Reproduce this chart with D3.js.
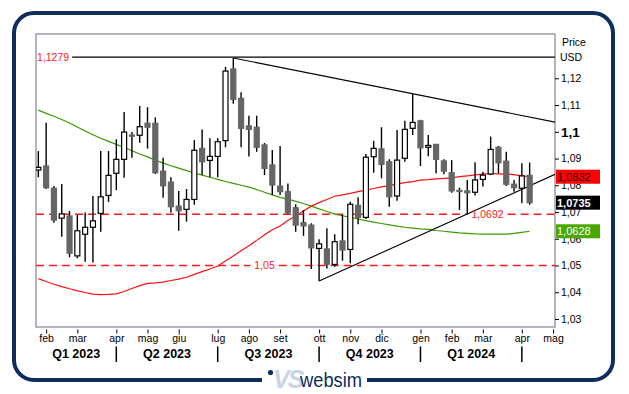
<!DOCTYPE html>
<html>
<head>
<meta charset="utf-8">
<script src="https://cdn.jsdelivr.net/npm/d3@7"></script>
<style>
  body { margin: 0; background: #fff; }
  text { font-family: 'Liberation Sans', Arial, sans-serif; }
</style>
</head>
<body>
<script>
// EUR/USD weekly candles, from week of 23 Jan 2023
const firstWeek = new Date(2023, 0, 23);
const opens = [1.0857, 1.0872, 1.0789, 1.0677, 1.0685, 1.0536, 1.0617, 1.0643, 1.0695, 1.0762,
  1.0845, 1.0897, 1.0988, 1.0987, 1.1032, 1.1032, 1.0853, 1.0812, 1.0722, 1.0710,
  1.0747, 1.0938, 1.0893, 1.0908, 1.0967, 1.1235, 1.1125, 1.1022, 1.1017, 1.0951,
  1.0876, 1.0797, 1.0776, 1.0716, 1.0660, 1.0651, 1.0564, 1.0562, 1.0504, 1.0592,
  1.0560, 1.0725, 1.0680, 1.0907, 1.0936, 1.0888, 1.0760, 1.0901, 1.1013, 1.1041,
  1.0942, 1.0953, 1.0891, 1.0847, 1.0781, 1.0779, 1.0774, 1.0822, 1.0842, 1.0942,
  1.0890, 1.0804, 1.0789, 1.0837];
const highs = [1.0928, 1.1034, 1.0797, 1.0805, 1.0704, 1.0689, 1.0698, 1.0760, 1.0928, 1.0928,
  1.0972, 1.1074, 1.0999, 1.1096, 1.1092, 1.1054, 1.0903, 1.0830, 1.0779, 1.0786,
  1.0969, 1.1009, 1.0976, 1.0976, 1.1243, 1.1276, 1.1148, 1.1060, 1.1060, 1.0958,
  1.0932, 1.0947, 1.0807, 1.0729, 1.0707, 1.0658, 1.0598, 1.0639, 1.0617, 1.0691,
  1.0738, 1.0755, 1.0917, 1.0966, 1.1017, 1.0897, 1.1007, 1.1041, 1.1141, 1.1045,
  1.0988, 1.0954, 1.0897, 1.0894, 1.0791, 1.0820, 1.0886, 1.0851, 1.0982, 1.0947,
  1.0925, 1.0820, 1.0882, 1.0885];
const lows = [1.0830, 1.0786, 1.0660, 1.0608, 1.0531, 1.0527, 1.0514, 1.0511, 1.0626, 1.0738,
  1.0782, 1.0828, 1.0903, 1.0959, 1.0937, 1.0842, 1.0753, 1.0697, 1.0630, 1.0664,
  1.0727, 1.0838, 1.0830, 1.0830, 1.0942, 1.1105, 1.0942, 1.0908, 1.0925, 1.0838,
  1.0764, 1.0764, 1.0691, 1.0626, 1.0611, 1.0487, 1.0442, 1.0489, 1.0495, 1.0518,
  1.0508, 1.0654, 1.0674, 1.0847, 1.0826, 1.0720, 1.0742, 1.0888, 1.0988, 1.0872,
  1.0909, 1.0845, 1.0841, 1.0772, 1.0707, 1.0692, 1.0762, 1.0795, 1.0838, 1.0845,
  1.0797, 1.0776, 1.0733, 1.0727];
const closes = [1.0867, 1.0791, 1.0670, 1.0693, 1.0546, 1.0630, 1.0643, 1.0667, 1.0757, 1.0837,
  1.0897, 1.0999, 1.0987, 1.1019, 1.1017, 1.0847, 1.0798, 1.0720, 1.0705, 1.0747,
  1.0931, 1.0888, 1.0908, 1.0963, 1.1227, 1.1121, 1.1013, 1.1009, 1.0942, 1.0863,
  1.0801, 1.0776, 1.0697, 1.0651, 1.0648, 1.0566, 1.0581, 1.0505, 1.0589, 1.0558,
  1.0729, 1.0680, 1.0905, 1.0938, 1.0878, 1.0757, 1.0894, 1.1009, 1.1035, 1.0940,
  1.0949, 1.0897, 1.0853, 1.0779, 1.0780, 1.0772, 1.0820, 1.0838, 1.0934, 1.0884,
  1.0804, 1.0791, 1.0835, 1.0735];

// moving averages
const maRed = [1.0451, 1.0440, 1.0430, 1.0421, 1.0413, 1.0405, 1.0399, 1.0393, 1.0391, 1.0392,
  1.0394, 1.0403, 1.0414, 1.0425, 1.0433, 1.0435, 1.0438, 1.0444, 1.0449, 1.0456,
  1.0467, 1.0477, 1.0487, 1.0498, 1.0517, 1.0536, 1.0555, 1.0574, 1.0594, 1.0615,
  1.0634, 1.0648, 1.0668, 1.0686, 1.0704, 1.0722, 1.0735, 1.0747, 1.0759, 1.0764,
  1.0770, 1.0776, 1.0782, 1.0788, 1.0794, 1.0799, 1.0805, 1.0810, 1.0814, 1.0819,
  1.0821, 1.0824, 1.0826, 1.0828, 1.0832, 1.0835, 1.0839, 1.0842, 1.0844, 1.0843,
  1.0842, 1.0840, 1.0835, 1.0832];
const maGreen = [1.1081, 1.1069, 1.1058, 1.1046, 1.1033, 1.1018, 1.1003, 1.0989, 1.0976, 1.0964,
  1.0953, 1.0941, 1.0929, 1.0917, 1.0906, 1.0894, 1.0883, 1.0873, 1.0864, 1.0855,
  1.0846, 1.0838, 1.0830, 1.0822, 1.0814, 1.0807, 1.0800, 1.0793, 1.0784, 1.0774,
  1.0764, 1.0755, 1.0748, 1.0740, 1.0732, 1.0722, 1.0712, 1.0702, 1.0692, 1.0686,
  1.0680, 1.0674, 1.0668, 1.0662, 1.0657, 1.0652, 1.0647, 1.0643, 1.0640, 1.0637,
  1.0635, 1.0631, 1.0628, 1.0625, 1.0622, 1.0620, 1.0618, 1.0617, 1.0617, 1.0617,
  1.0617, 1.0620, 1.0624, 1.0628];

const yTicks = [1.03, 1.04, 1.05, 1.06, 1.07, 1.08, 1.09, 1.1, 1.11, 1.12];
const monthNames = ['gen', 'feb', 'mar', 'apr', 'mag', 'giu', 'lug', 'ago', 'set', 'ott', 'nov', 'dic'];
const topLevel = 1.1279;
const dashedLevels = [1.0692, 1.05];
// trendlines as [week index, price]
const trendTop = [[25, 1.1276], [66.25, 1.1036]];
const trendBottom = [[36, 1.0442], [66.25, 1.0841]];

const W = 629, H = 394;
const pLeft = 36, pRight = 555, pTop = 34, pBottom = 327;
const navy = '#0e2d5c';

const it = d3.formatLocale({decimal: ',', thousands: '.', grouping: [3], currency: ['', '']});
const f4 = it.format('.4f');
const fTick = it.format('.2~f');

const svg = d3.select('body').append('svg').attr('width', W).attr('height', H);

// outer rounded frame with a gap for the logo
svg.append('rect')
  .attr('x', 14).attr('y', 13).attr('width', 599).attr('height', 367)
  .attr('rx', 20)
  .attr('fill', 'none').attr('stroke', navy).attr('stroke-width', 4);
svg.append('rect').attr('x', 262).attr('y', 374).attr('width', 105).attr('height', 12).attr('fill', '#fff');

// weeks
const nWeeks = 67;
const weeks = d3.range(nWeeks).map(i => d3.timeDay.offset(firstWeek, i * 7));

const x = d3.scaleLinear().domain([-0.3, 66.25]).range([pLeft, pRight]);
const y = d3.scaleLinear().domain([1.03, 1.12]).range([319, 78.3]);

svg.append('defs').append('clipPath').attr('id', 'plot')
  .append('rect').attr('x', pLeft).attr('y', pTop).attr('width', pRight - pLeft).attr('height', pBottom - pTop);

svg.append('rect')
  .attr('x', pLeft).attr('y', pTop).attr('width', pRight - pLeft).attr('height', pBottom - pTop)
  .attr('fill', '#fff').attr('stroke', '#9c9ca8').attr('stroke-width', 1.5);

const plot = svg.append('g').attr('clip-path', 'url(#plot)');

// resistance level 1,1279
const topLabel = svg.append('text')
  .attr('x', 37).attr('y', y(topLevel)).attr('dy', '0.35em')
  .attr('font-size', 10.5).attr('fill', '#ff2020')
  .text(f4(topLevel));
const topLabelEnd = 37 + topLabel.node().getComputedTextLength() + 3;
plot.append('line')
  .attr('x1', topLabelEnd).attr('x2', pRight)
  .attr('y1', y(topLevel)).attr('y2', y(topLevel))
  .attr('stroke', '#000').attr('stroke-width', 1.3);

// dashed support levels, with the label in a gap of the line
const labelAt = [57.6, 29];
dashedLevels.forEach((v, k) => {
  const cx = x(labelAt[k]);
  const lbl = svg.append('text')
    .attr('x', cx).attr('y', y(v)).attr('dy', '0.35em')
    .attr('text-anchor', 'middle').attr('font-size', 10.5).attr('fill', '#ff2020')
    .text(v === 1.05 ? fTick(v) : f4(v));
  const half = lbl.node().getComputedTextLength() / 2 + 4;
  [[pLeft, cx - half], [cx + half, pRight]].forEach(([a, b]) => {
    plot.append('line')
      .attr('x1', a).attr('x2', b).attr('y1', y(v)).attr('y2', y(v))
      .attr('stroke', '#ff1a1a').attr('stroke-width', 1.5)
      .attr('stroke-dasharray', '8,5');
  });
});

// moving averages
const maLine = d3.line().x((d, i) => x(i)).y(d => y(d));
plot.append('path').datum(maGreen).attr('d', maLine)
  .attr('fill', 'none').attr('stroke', '#3c9a00').attr('stroke-width', 1.2);
plot.append('path').datum(maRed).attr('d', maLine)
  .attr('fill', 'none').attr('stroke', '#ff1010').attr('stroke-width', 1.2);

// trendlines
const tLine = d3.line().x(d => x(d[0])).y(d => y(d[1]));
[trendTop, trendBottom].forEach(t => {
  plot.append('path').datum(t).attr('d', tLine)
    .attr('fill', 'none').attr('stroke', '#000').attr('stroke-width', 1.1);
});

// candles
const candles = plot.selectAll('g.candle')
  .data(d3.range(opens.length))
  .join('g').attr('class', 'candle');
candles.append('line')
  .attr('x1', i => x(i)).attr('x2', i => x(i))
  .attr('y1', i => y(highs[i])).attr('y2', i => y(lows[i]))
  .attr('stroke', '#000').attr('stroke-width', 1.4);
candles.append('rect')
  .attr('x', i => x(i) - 2.5)
  .attr('width', 5)
  .attr('y', i => y(Math.max(opens[i], closes[i])))
  .attr('height', i => Math.max(1.2, Math.abs(y(opens[i]) - y(closes[i]))))
  .attr('fill', i => closes[i] >= opens[i] ? '#fff' : '#666')
  .attr('stroke', i => closes[i] >= opens[i] ? '#000' : '#666')
  .attr('stroke-width', 1.2);

// price axis
const yAxis = svg.append('g')
  .attr('transform', `translate(${pRight},0)`)
  .call(d3.axisRight(y).tickValues(yTicks).tickSize(4).tickPadding(2).tickFormat(fTick));
yAxis.select('.domain').remove();
yAxis.selectAll('line').attr('stroke', '#000');
yAxis.selectAll('text')
  .attr('font-family', "'Liberation Sans', Arial, sans-serif")
  .attr('font-size', d => d === 1.1 ? 13.5 : 10.5)
  .attr('font-weight', d => d === 1.1 ? 'bold' : 'normal')
  .attr('fill', '#000');

svg.append('text').attr('x', 562).attr('y', 46).attr('font-size', 10.5).text('Price');
svg.append('text').attr('x', 560).attr('y', 61).attr('font-size', 10.5).text('USD');

// value badges
const badges = [
  {v: maRed[maRed.length - 1], bg: '#ff0000', fg: '#2a0000', bold: false},
  {v: closes[closes.length - 1], bg: '#000', fg: '#fff', bold: true},
  {v: maGreen[maGreen.length - 1], bg: '#49a800', fg: '#fff', bold: false}
];
badges.forEach(b => {
  svg.append('rect')
    .attr('x', 556).attr('y', y(b.v) - 7).attr('width', 44).attr('height', 14)
    .attr('fill', b.bg);
  svg.append('text')
    .attr('x', 557).attr('y', y(b.v)).attr('dy', '0.36em')
    .attr('font-size', 11).attr('font-weight', b.bold ? 'bold' : 'normal')
    .attr('fill', b.fg).text(f4(b.v));
});

// month ticks: first week whose Friday falls in a new month
const monthIdx = weeks.map((d, i) => i).filter(i => {
  if (i === 0) return false;
  const fri = d3.timeDay.offset(weeks[i], 4), prev = d3.timeDay.offset(weeks[i - 1], 4);
  return fri.getMonth() !== prev.getMonth();
});
const xAxis = svg.append('g')
  .attr('transform', `translate(0,${pBottom + 2.5})`)
  .call(d3.axisBottom(x).tickValues(monthIdx).tickSize(4).tickPadding(1)
    .tickFormat(i => monthNames[d3.timeDay.offset(weeks[i], 4).getMonth()]));
xAxis.select('.domain').remove();
xAxis.selectAll('line').attr('stroke', '#000');
xAxis.selectAll('text')
  .attr('font-family', "'Liberation Sans', Arial, sans-serif")
  .attr('font-size', 10.5).attr('fill', '#000');

// quarters
const qIdx = monthIdx.filter(i => d3.timeDay.offset(weeks[i], 4).getMonth() % 3 === 0);
svg.selectAll('line.qsep').data(qIdx).join('line').attr('class', 'qsep')
  .attr('x1', i => x(i)).attr('x2', i => x(i))
  .attr('y1', 346.5).attr('y2', 362)
  .attr('stroke', '#000').attr('stroke-width', 1.5);
qIdx.forEach((i, k) => {
  const start = k === 0 ? pLeft : x(qIdx[k - 1]);
  const d = d3.timeDay.offset(weeks[i], 4);
  const endQ = new Date(d.getFullYear(), d.getMonth() - 1, 1);
  svg.append('text')
    .attr('x', (start + x(i)) / 2).attr('y', 358)
    .attr('text-anchor', 'middle').attr('font-size', 12.5).attr('font-weight', 'bold')
    .text(`Q${Math.floor(endQ.getMonth() / 3) + 1} ${endQ.getFullYear()}`);
});

// logo
const logo = svg.append('g');
logo.append('circle').attr('cx', 270.5).attr('cy', 372.5).attr('r', 2.6).attr('fill', navy);
logo.append('text')
  .attr('x', 273).attr('y', 388)
  .attr('font-size', 25).attr('font-weight', 'bold').attr('font-style', 'italic')
  .attr('fill', '#c9d5e4').attr('letter-spacing', -2)
  .text('VS');
logo.append('text')
  .attr('x', 300).attr('y', 387)
  .attr('font-size', 21).attr('fill', navy)
  .attr('textLength', 62).attr('lengthAdjust', 'spacingAndGlyphs')
  .text('websim');
</script>
</body>
</html>
